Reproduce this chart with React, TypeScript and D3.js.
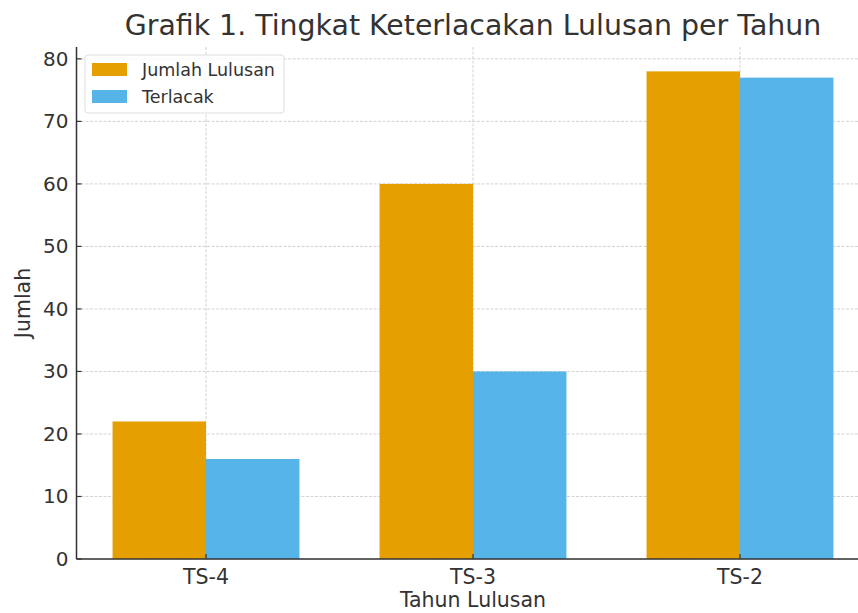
import React from "react";
import * as d3 from "d3";

const categories = ["TS-4", "TS-3", "TS-2"];
const jumlahLulusan = [22, 60, 78];
const terlacak = [16, 30, 77];
const yTicks = [0, 10, 20, 30, 40, 50, 60, 70, 80];
const seriesNames = ["Jumlah Lulusan", "Terlacak"];
const colors = ["#E69F00", "#56B4E9"];

const W = 858, H = 613;
const M = { left: 76.5, right: 869.5, top: 47, bottom: 559 };
const FONT = "DejaVu Sans, sans-serif";
const TXT = "#333333";

export default function App() {
  const barW = 0.35;
  const x = d3.scaleLinear().domain([-0.485, 2.485]).range([M.left, M.right]);
  const y = d3.scaleLinear().domain([0, 81.9]).range([M.bottom, M.top]);
  const series = [jumlahLulusan, terlacak];
  const offsets = [-barW / 2, barW / 2];
  return (
    <svg width={W} height={H} style={{ position: "absolute", left: 0, top: 0 }} fontFamily={FONT}>
      <rect width={W} height={H} fill="#fff" />
      {/* grid */}
      {yTicks.map((t) => (
        <line key={"gy" + t} x1={M.left} x2={M.right} y1={y(t)} y2={y(t)} stroke="#b0b0b0" strokeOpacity={0.7} strokeWidth={0.8} strokeDasharray="3,1.5" />
      ))}
      {categories.map((c, i) => (
        <line key={"gx" + c} x1={x(i)} x2={x(i)} y1={M.top} y2={M.bottom} stroke="#b0b0b0" strokeOpacity={0.7} strokeWidth={0.8} strokeDasharray="3,1.5" />
      ))}
      {/* bars */}
      {series.map((s, si) =>
        s.map((v, i) => {
          const x0 = x(i + offsets[si] - barW / 2);
          const x1 = x(i + offsets[si] + barW / 2);
          return <rect key={si + "-" + i} x={x0} y={y(v)} width={x1 - x0} height={y(0) - y(v)} fill={colors[si]} />;
        })
      )}
      {/* spines */}
      <line x1={M.left} x2={M.left} y1={M.top} y2={M.bottom} stroke={TXT} strokeWidth={1.5} />
      <line x1={M.left} x2={M.right} y1={M.bottom} y2={M.bottom} stroke={TXT} strokeWidth={1.5} />
      {/* y ticks */}
      {yTicks.map((t) => (
        <g key={"ty" + t}>
          <line x1={M.left} x2={M.left + 5} y1={y(t)} y2={y(t)} stroke={TXT} strokeWidth={1.2} />
          <text x={M.left - 8} y={y(t)} dy="0.35em" textAnchor="end" fontSize={20} fill={TXT}>{t}</text>
        </g>
      ))}
      {/* x ticks */}
      {categories.map((c, i) => (
        <g key={"tx" + c}>
          <line x1={x(i)} x2={x(i)} y1={M.bottom} y2={M.bottom - 5} stroke={TXT} strokeWidth={1.2} />
          <text x={x(i)} y={M.bottom + 24.5} textAnchor="middle" fontSize={20.5} fill={TXT}>{c}</text>
        </g>
      ))}
      {/* labels */}
      <text x={473} y={607} textAnchor="middle" fontSize={20.5} fill={TXT}>Tahun Lulusan</text>
      <text transform={`translate(30,${(M.top + M.bottom) / 2}) rotate(-90)`} textAnchor="middle" fontSize={20.5} fill={TXT}>Jumlah</text>
      <text x={473} y={35} textAnchor="middle" fontSize={28.4} fill={TXT}>Grafik 1. Tingkat Keterlacakan Lulusan per Tahun</text>
      {/* legend */}
      <rect x={85} y={55} width={199} height={58} rx={3} fill="#fff" fillOpacity={0.8} stroke="#dddddd" strokeWidth={1} />
      {seriesNames.map((n, i) => (
        <g key={n}>
          <rect x={92} y={63 + i * 27} width={35} height={13} fill={colors[i]} />
          <text x={142} y={70 + i * 27} dy="0.35em" fontSize={17.5} fill={TXT}>{n}</text>
        </g>
      ))}
    </svg>
  );
}
